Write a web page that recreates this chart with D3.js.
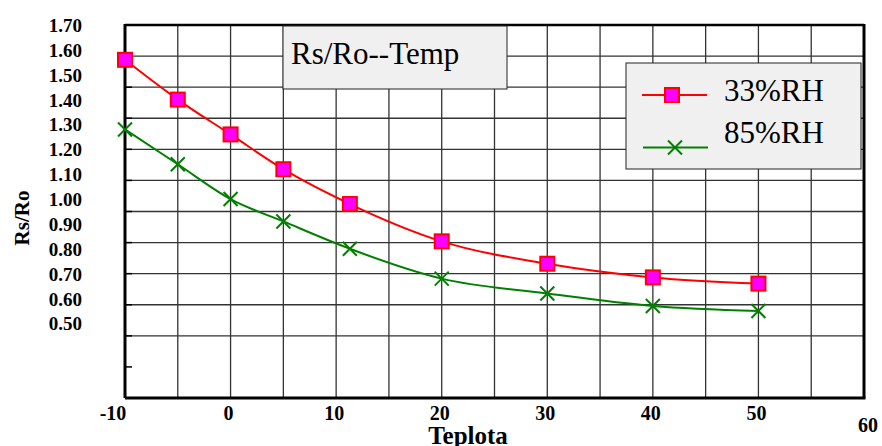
<!DOCTYPE html>
<html>
<head>
<meta charset="utf-8">
<script src="https://cdn.jsdelivr.net/npm/d3@7"></script>
<style>
  body { margin: 0; background: #fff; }
</style>
</head>
<body>
<svg id="chart" width="882" height="446"></svg>
<script>
// data
const temps = [-10, -5, 0, 5, 11.3, 20, 30, 40, 50]
const rh33 = [1.56, 1.40, 1.26, 1.12, 0.98, 0.83, 0.74, 0.685, 0.66]
const rh85 = [1.28, 1.14, 1.00, 0.91, 0.80, 0.68, 0.62, 0.57, 0.55]
const seriesNames = ['33%RH', '85%RH']
const xTicks = [-10, 0, 10, 20, 30, 40, 50, 60]
const yTicks = [0.5, 0.6, 0.7, 0.8, 0.9, 1.0, 1.1, 1.2, 1.3, 1.4, 1.5, 1.6, 1.7]

const svg = d3.select('#chart')
    .attr('font-family', '"Liberation Serif", "Times New Roman", "DejaVu Serif", serif')

const x = d3.scaleLinear().domain([-10, 60]).range([125, 864])
const y = d3.scaleLinear().domain([0.2, 1.7]).range([398, 25])

// grid
const grid = svg.append('g')
grid.selectAll('line.v')
    .data(d3.range(-5, 60, 5))
    .join('line')
    .attr('x1', d => x(d)).attr('x2', d => x(d))
    .attr('y1', y(1.7)).attr('y2', y(0.2))
    .attr('stroke', '#333').attr('stroke-width', 1.3)

const hLines = d3.range(1, 12).map(i => 0.2 + i * 0.125)
grid.selectAll('line.h')
    .data(hLines.slice(1))
    .join('line')
    .attr('x1', x(-10)).attr('x2', x(60))
    .attr('y1', d => y(d)).attr('y2', d => y(d))
    .attr('stroke', '#333').attr('stroke-width', 1.3)

// small ticks on left axis
grid.selectAll('line.t')
    .data(hLines)
    .join('line')
    .attr('x1', x(-10)).attr('x2', x(-10) + 7)
    .attr('y1', d => y(d)).attr('y2', d => y(d))
    .attr('stroke', '#000').attr('stroke-width', 1.5)

// frame
svg.append('line').attr('x1', x(-10)).attr('x2', x(60)).attr('y1', y(1.7)).attr('y2', y(1.7))
    .attr('stroke', '#000').attr('stroke-width', 2.5)
svg.append('line').attr('x1', x(-10)).attr('x2', x(60) + 1.5).attr('y1', y(0.2)).attr('y2', y(0.2))
    .attr('stroke', '#000').attr('stroke-width', 3)
svg.append('line').attr('x1', x(-10)).attr('x2', x(-10)).attr('y1', y(1.7) - 1).attr('y2', y(0.2))
    .attr('stroke', '#000').attr('stroke-width', 3)
svg.append('line').attr('x1', x(60)).attr('x2', x(60)).attr('y1', y(1.7) - 1).attr('y2', y(0.2))
    .attr('stroke', '#000').attr('stroke-width', 3)

// tick labels
svg.append('g').selectAll('text')
    .data(yTicks)
    .join('text')
    .attr('x', 82).attr('y', d => y(d) + 7)
    .attr('text-anchor', 'end')
    .style('font-size', '19px').style('font-weight', 'bold')
    .text(d => d3.format('.2f')(d))

svg.append('g').selectAll('text')
    .data(xTicks)
    .join('text')
    .attr('x', d => d < 0 ? x(d) - 12 : d === 60 ? x(d) + 4 : x(d) - 2)
    .attr('y', d => d === 60 ? 432 : 420)
    .attr('text-anchor', 'middle')
    .style('font-size', '20px').style('font-weight', 'bold')
    .text(d => d)

// axis titles
svg.append('text')
    .attr('transform', 'translate(29,218) rotate(-90)')
    .attr('text-anchor', 'middle')
    .style('font-size', '21px').style('font-weight', 'bold')
    .text('Rs/Ro')

svg.append('text')
    .attr('x', 468).attr('y', 444)
    .attr('text-anchor', 'middle')
    .style('font-size', '25px').style('font-weight', 'bold')
    .text('Teplota')

// series lines
const line = d3.line()
    .x((d, i) => x(temps[i]))
    .y(d => y(d))
    .curve(d3.curveMonotoneX)

svg.append('path').datum(rh33).attr('d', line)
    .attr('fill', 'none').attr('stroke', '#ff0000').attr('stroke-width', 2)
svg.append('path').datum(rh85).attr('d', line)
    .attr('fill', 'none').attr('stroke', '#008000').attr('stroke-width', 2)

function squareMarker(g, cx, cy) {
    g.append('rect')
        .attr('x', cx - 7).attr('y', cy - 7)
        .attr('width', 14).attr('height', 14)
        .attr('fill', '#ff00ff').attr('stroke', '#ff0000').attr('stroke-width', 2)
}
function crossMarker(g, cx, cy) {
    g.append('path')
        .attr('d', `M${cx - 7},${cy - 7}L${cx + 7},${cy + 7}M${cx - 7},${cy + 7}L${cx + 7},${cy - 7}`)
        .attr('stroke', '#008000').attr('stroke-width', 2).attr('fill', 'none')
}

const marks = svg.append('g')
rh33.forEach((v, i) => squareMarker(marks, x(temps[i]), y(v)))
rh85.forEach((v, i) => crossMarker(marks, x(temps[i]), y(v)))

// title box
svg.append('rect')
    .attr('x', 283).attr('y', 26).attr('width', 224).attr('height', 63)
    .attr('fill', '#f0f0f0').attr('stroke', '#222').attr('stroke-width', 1)
svg.append('text')
    .attr('x', 291).attr('y', 64)
    .style('font-size', '31px')
    .text('Rs/Ro--Temp')

// legend
const legend = svg.append('g')
legend.append('rect')
    .attr('x', 626).attr('y', 63).attr('width', 235).attr('height', 106)
    .attr('fill', '#f0f0f0').attr('stroke', '#222').attr('stroke-width', 1)

legend.append('line').attr('x1', 642).attr('x2', 707).attr('y1', 95).attr('y2', 95)
    .attr('stroke', '#ff0000').attr('stroke-width', 2)
squareMarker(legend, 672, 95)
legend.append('line').attr('x1', 643).attr('x2', 708).attr('y1', 147.5).attr('y2', 147.5)
    .attr('stroke', '#008000').attr('stroke-width', 2)
crossMarker(legend, 675, 147.5)

legend.selectAll('text.name')
    .data(seriesNames)
    .join('text')
    .attr('x', 724)
    .attr('y', (d, i) => 101 + i * 42)
    .style('font-size', '31px')
    .text(d => d)
</script>
</body>
</html>
